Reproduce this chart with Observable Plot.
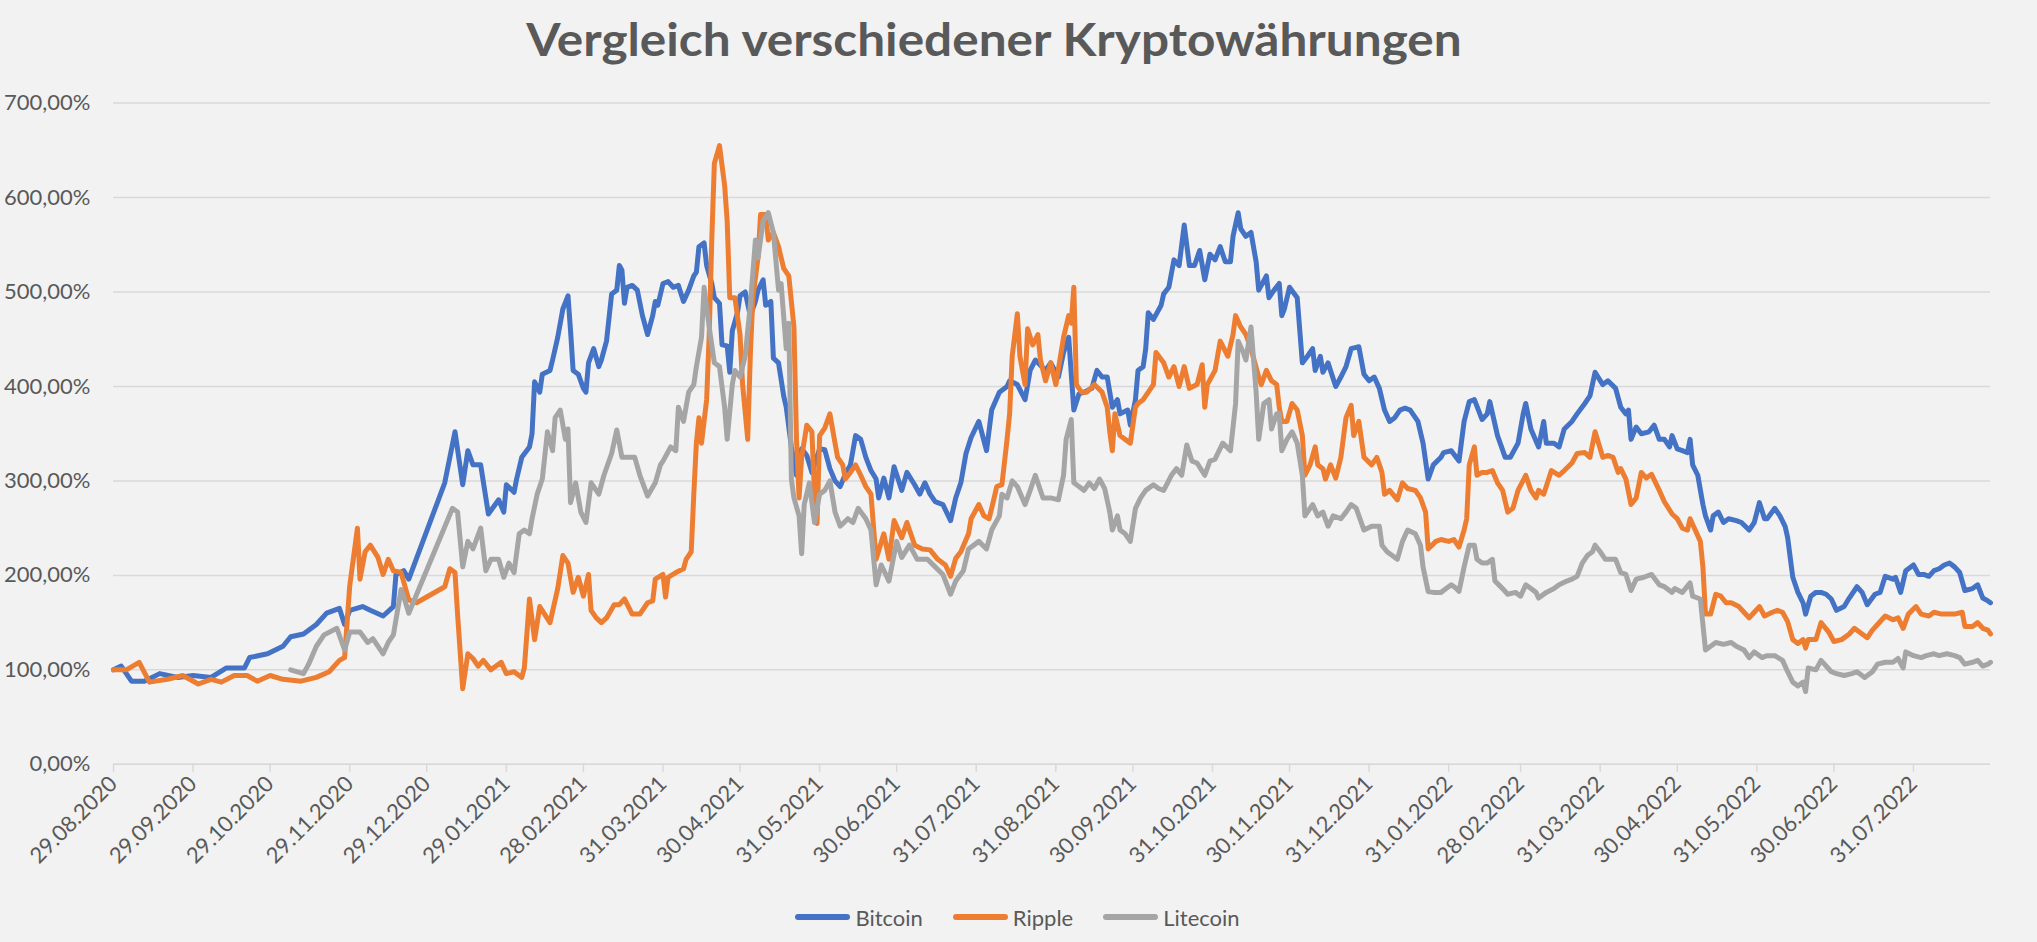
<!DOCTYPE html>
<html>
<head>
<meta charset="utf-8">
<script src="https://cdn.jsdelivr.net/npm/d3@7"></script>
<script src="https://cdn.jsdelivr.net/npm/@observablehq/plot@0.6"></script>
<style>
html, body { margin: 0; padding: 0; background: #F2F2F2; }
#wrap { position: relative; width: 2037px; height: 942px; background: #F2F2F2; overflow: hidden;
        font-family: Lato, "Open Sans", sans-serif; color: #595959; }
#title { position: absolute; top: 15px; left: 994px; font-weight: 700; font-size: 46px; line-height: 48px;
         white-space: nowrap; transform-origin: 0 0; color: #595959; }
#chart { position: absolute; top: 70px; left: 0; }
#legend { position: absolute; top: 902px; left: 0; width: 2035px; height: 30px; display: flex;
          justify-content: center; align-items: center; gap: 30px; font-size: 22px; color: #595959; }
.item { display: flex; align-items: center; }
.sw { display: inline-block; width: 55px; height: 6px; border-radius: 3px; margin-right: 5px; }
</style>
</head>
<body>
<div id="wrap">
  <div id="title">Vergleich verschiedener Kryptowährungen</div>
  <div id="chart"></div>
  <div id="legend"></div>
</div>
<script>
// ---- data (days after 29.08.2020, value in %) ----
const startDate = "2020-08-29";

const btcDays = [0,3,7,12,18,25,31,38,44,51,53,60,66,69,74,79,83,88,90,92,97,100,105,109,110,113,115,129,133,136,138,140,143,146,
150,152,153,156,157,159,162,163,164,166,167,170,171,173,175,177,178,179,181,183,184,185,187,189,190,192,194,196,197,198,199,200,202,204,206,208,210,211,212,214,216,218,220,222,224,226,227,228,230,231,233,234,236,237,239,240,241,243,244,246,248,250,251,253,254,256,257,259,261,262,264,266,268,270,272,275,277,279,281,283,285,287,289,291,293,295,
297,298,300,302,304,307,309,312,314,316,318,320,323,326,328,330,332,334,337,340,342,345,348,349,352,355,357,359,363,365,368,370,372,374,376,378,381,383,385,387,389,391,392,395,396,398,399,401,402,403,405,408,409,411,413,415,417,419,421,423,425,427,429,431,433,435,436,438,439,441,443,
445,446,449,450,452,454,455,456,458,461,463,465,467,468,470,471,473,476,478,480,482,485,487,489,491,493,495,497,499,501,503,505,508,510,512,514,517,518,521,524,526,528,530,533,535,536,539,542,544,547,549,550,552,555,557,558,561,563,565,568,570,573,575,577,580,582,585,587,
589,590,591,593,595,598,600,602,604,606,607,609,611,613,614,615,617,619,620,622,623,625,627,629,632,634,637,639,641,643,644,647,649,651,652,654,656,658,659,661,663,665,667,669,671,674,676,679,681,683,686,688,690,693,694,696,698,701,703,705,707,709,711,713,715,717,719,721,724,726,728,730,731];
const btcValues = [100,104,88,88,96,92,94,92,102,102,113,117,125,135,138,148,160,165,148,163,167,163,157,167,201,205,196,298,352,296,332,317,317,265,
280,267,296,288,302,325,336,350,405,394,413,417,428,452,482,496,459,417,413,398,394,425,440,421,428,448,498,502,528,523,488,505,507,502,475,455,475,490,486,509,511,505,507,490,502,517,521,548,552,528,509,494,488,444,443,415,459,478,496,500,475,490,502,513,486,490,430,425,390,378,336,306,334,327,309,334,333,313,300,294,307,317,348,344,325,311,
302,282,303,282,315,290,309,296,286,298,286,278,275,258,282,298,329,346,363,332,375,394,400,406,402,386,417,428,417,425,410,436,452,375,392,394,398,417,410,410,378,386,371,375,359,386,417,421,440,478,471,486,498,505,534,528,571,528,528,544,513,540,534,548,532,532,559,584,567,559,563,
532,502,517,494,502,509,475,482,505,494,425,432,440,417,432,415,425,400,410,421,440,442,413,406,410,398,375,363,367,375,377,375,363,340,302,317,325,330,332,321,363,384,386,365,371,384,348,325,325,340,371,382,355,336,363,340,340,336,355,363,371,382,390,415,402,406,398,378,
371,375,344,357,350,352,359,344,344,336,348,334,332,330,344,317,306,275,263,248,263,267,256,260,258,256,248,256,277,260,260,271,263,252,240,198,182,171,159,178,182,182,180,175,163,167,176,188,182,169,180,182,199,196,198,182,205,211,201,201,199,205,207,211,213,209,203,184,186,190,176,173,171];

const xrpDays = [0,5,10,14,21,27,33,38,42,47,52,56,61,66,73,79,84,88,90,92,95,96,98,100,103,105,107,109,112,115,118,129,131,133,134,136,138,140,142,144,
147,151,153,156,159,160,162,164,166,170,173,175,177,179,181,183,185,186,188,190,192,195,197,199,202,205,208,210,211,214,215,216,219,222,223,225,226,227,228,229,231,232,233,234,236,238,239,240,242,244,245,247,248,249,251,252,254,255,257,259,261,263,265,266,267,268,270,272,273,274,275,277,279,281,282,284,285,287,289,291,293,295,
297,300,302,304,307,309,312,315,318,321,324,326,328,330,333,334,337,339,341,342,344,346,348,349,350,352,353,355,356,358,360,361,363,365,367,370,372,373,374,375,377,379,382,385,387,388,389,390,392,394,396,398,399,401,403,405,406,409,411,413,415,417,419,422,424,425,426,429,431,434,436,437,439,441,443,
446,447,449,451,453,454,455,457,459,461,463,464,466,468,469,471,472,474,476,478,480,482,483,485,487,490,492,494,495,497,500,502,504,507,509,511,512,515,517,520,522,524,526,527,528,530,531,533,535,537,539,541,543,545,547,550,552,554,555,557,560,563,565,568,570,573,575,577,580,582,584,586,
587,589,591,593,595,597,599,602,604,607,609,611,613,614,616,618,619,620,622,624,626,628,630,633,635,637,639,641,643,646,648,650,652,654,656,658,659,660,663,665,668,670,673,676,678,681,683,685,687,690,693,695,697,699,702,704,707,709,712,715,717,720,721,724,726,728,730,731];
const xrpValues = [100,100,108,87,90,94,85,90,87,94,94,88,94,90,88,92,98,110,113,189,250,196,225,232,219,201,217,205,203,174,171,188,207,203,159,80,117,112,104,110,
100,108,96,98,92,102,175,132,167,150,186,221,213,182,198,178,201,163,155,150,155,169,169,175,159,159,171,173,196,201,177,198,203,207,217,225,286,340,367,340,386,455,555,636,655,613,575,494,494,455,402,344,432,494,536,582,582,555,563,548,525,517,463,344,282,325,359,352,286,255,348,356,371,340,325,317,302,309,317,306,294,286,
217,244,217,258,240,256,232,228,227,217,211,199,218,225,244,260,275,263,260,271,294,296,344,371,432,477,432,402,461,444,455,428,406,425,402,452,475,467,505,402,394,394,402,394,378,352,332,371,348,344,340,378,382,386,394,402,436,425,410,421,400,421,398,402,423,378,402,417,448,432,455,475,463,455,440,
410,402,417,406,402,378,363,363,382,375,348,306,317,336,317,313,302,317,303,325,367,380,348,363,325,317,325,309,286,290,280,298,292,290,282,267,228,236,238,236,238,230,248,260,317,336,306,309,309,311,298,290,267,271,290,306,290,282,290,286,311,306,311,319,329,330,325,352,325,327,325,309,
313,302,275,282,309,303,307,290,278,265,260,250,248,260,248,236,209,159,159,180,178,171,171,167,161,155,161,167,157,161,163,161,151,132,128,132,123,132,132,150,140,130,132,138,144,138,134,142,148,157,153,155,144,159,167,159,157,161,159,159,159,161,146,146,150,144,142,138];

const ltcDays = [69,74,76,79,82,87,90,92,96,99,101,105,107,109,112,113,115,132,134,136,138,140,143,145,
147,150,152,154,156,158,160,162,163,165,167,169,171,172,174,176,177,178,180,182,184,186,189,191,194,196,198,200,203,205,208,211,213,214,217,219,220,222,224,226,227,229,230,232,234,236,238,239,241,242,244,246,248,250,251,253,255,257,259,260,262,263,264,265,267,268,269,271,273,275,277,279,281,283,286,288,290,293,
295,297,299,302,305,307,310,313,317,320,323,326,328,331,333,337,340,342,345,346,348,350,352,355,357,359,362,365,368,370,371,373,374,376,378,380,382,384,386,388,389,391,392,394,396,398,400,402,405,407,409,412,414,416,418,420,422,425,427,429,432,435,437,438,440,441,443,
445,446,448,450,451,453,454,455,457,459,461,463,464,467,469,471,473,475,478,480,482,484,487,490,493,494,496,498,500,502,504,507,509,510,512,514,517,519,521,523,524,526,528,530,531,533,535,537,538,541,543,546,548,550,552,554,555,558,561,563,566,568,570,572,574,576,577,579,581,583,585,587,
589,591,593,596,599,602,604,607,608,611,614,615,618,619,620,622,624,627,630,632,635,637,639,642,644,647,650,652,654,656,658,659,660,663,665,669,671,674,677,679,682,685,687,690,693,695,697,698,701,704,706,709,711,714,717,719,721,724,726,728,730,731];
const ltcValues = [100,96,106,125,137,144,121,140,140,129,133,117,129,137,185,178,160,271,267,209,236,228,250,205,
217,217,198,213,203,244,248,244,260,286,302,352,332,367,375,344,355,277,298,267,256,298,286,306,329,354,325,325,325,306,284,298,317,321,336,332,378,363,394,402,421,452,505,463,425,421,378,344,402,417,410,432,486,555,536,575,584,563,502,509,440,467,302,282,263,223,275,298,256,286,290,300,267,252,260,256,271,260,
248,190,211,194,236,219,232,217,217,209,201,180,194,205,228,236,228,248,263,286,282,300,294,275,290,306,282,282,280,306,344,365,298,294,290,298,292,302,292,267,248,263,248,244,236,271,282,290,296,292,290,306,313,306,338,321,319,306,321,323,340,332,382,448,436,428,463,
394,344,382,386,355,371,371,332,344,352,340,306,263,275,263,267,252,263,260,267,275,271,248,252,252,232,225,221,217,236,248,244,232,209,183,182,182,186,190,186,183,209,232,232,217,213,213,217,194,186,180,182,178,190,186,182,176,182,186,190,194,196,199,213,221,225,232,225,217,217,217,203,
201,184,196,198,201,190,188,182,186,182,192,178,175,148,121,125,129,127,129,125,121,113,119,113,115,115,110,98,87,83,87,77,102,100,110,98,96,94,96,98,92,98,106,108,108,112,102,119,115,113,115,117,115,117,115,113,106,108,110,104,106,108];

const seriesNames = ["Bitcoin", "Ripple", "Litecoin"];
const seriesColors = ["#4472C4", "#ED7D31", "#A5A5A5"];
const yTicks = [0, 100, 200, 300, 400, 500, 600, 700];
const tickLabels = ["29.08.2020","29.09.2020","29.10.2020","29.11.2020","29.12.2020","29.01.2021","28.02.2021","31.03.2021",
  "30.04.2021","31.05.2021","30.06.2021","31.07.2021","31.08.2021","30.09.2021","31.10.2021","30.11.2021","31.12.2021",
  "31.01.2022","28.02.2022","31.03.2022","30.04.2022","31.05.2022","30.06.2022","31.07.2022"];

// ---- build ----
const t0 = new Date(startDate + "T00:00:00Z").getTime();
const toDate = d => new Date(t0 + d * 864e5);
const mk = (days, vals) => days.map((d, i) => ({date: toDate(d), value: vals[i]}));
const seriesData = [mk(btcDays, btcValues), mk(xrpDays, xrpValues), mk(ltcDays, ltcValues)];
const tickDates = tickLabels.map(s => { const [dd, mm, yy] = s.split("."); return new Date(Date.UTC(+yy, +mm - 1, +dd)); });
const labelOf = new Map(tickDates.map((d, i) => [+d, tickLabels[i]]));

const chart = Plot.plot({
  width: 2037, height: 800,
  marginLeft: 113, marginRight: 47, marginTop: 32.6, marginBottom: 106.2,
  style: {background: "transparent", fontFamily: "Lato, 'Open Sans', sans-serif", fontSize: "22px", color: "#595959", overflow: "visible"},
  x: {type: "utc", domain: [toDate(0), toDate(731)]},
  y: {domain: [0, 700]},
  marks: [
    Plot.gridY(yTicks, {stroke: "#D9D9D9", strokeOpacity: 1, strokeWidth: 1.5}),
    Plot.axisY(yTicks, {tickSize: 0, tickPadding: 23, label: null, fill: "#595959",
      tickFormat: d => d.toFixed(2).replace(".", ",") + "%"}),
    Plot.axisX(tickDates, {tickSize: 8, tickPadding: 8, tickRotate: -45, label: null, stroke: "#D9D9D9", strokeWidth: 1.5,
      fill: "#595959", tickFormat: d => labelOf.get(+d)}),
    Plot.ruleY([0], {stroke: "#D9D9D9", strokeWidth: 1.5}),
    ...seriesData.map((data, i) => Plot.line(data, {x: "date", y: "value", stroke: seriesColors[i],
      strokeWidth: 5, strokeLinejoin: "round", strokeLinecap: "round"}))
  ]
});
document.getElementById("chart").appendChild(chart);

// legend
const legend = document.getElementById("legend");
seriesNames.forEach((n, i) => {
  const it = document.createElement("div"); it.className = "item";
  const sw = document.createElement("span"); sw.className = "sw"; sw.style.background = seriesColors[i];
  const tx = document.createElement("span"); tx.textContent = n;
  it.appendChild(sw); it.appendChild(tx); legend.appendChild(it);
});

// fit title width to reference (~935px)
const title = document.getElementById("title");
const w = title.scrollWidth;
const s = 935 / w;
title.style.transform = `scaleX(${s}) translateX(-50%)`;
</script>
</body>
</html>
